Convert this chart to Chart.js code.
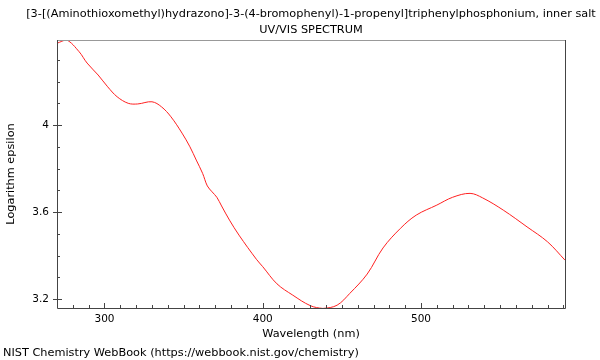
<!DOCTYPE html>
<html lang="en">
<head>
    <meta charset="UTF-8">
    <title>UV/VIS Spectrum</title>
    <script src="https://cdn.jsdelivr.net/npm/chart.js"></script>
    <style>
        html, body { margin: 0; padding: 0; background: #fff; }
        #wrap { width: 600px; height: 360px; position: relative; }
    </style>
</head>
<body>
    <div id="wrap"><canvas id="spectrumChart" width="600" height="360"></canvas></div>

    <script>
        // values
        const wavelengths = [270, 276, 284, 289, 296, 302, 308, 315, 321, 330, 336, 342, 349, 354, 358, 362, 365, 368, 371, 374, 379, 385, 396, 400, 409, 419, 430, 438, 447, 455, 466, 476, 487, 497, 510, 520, 531, 539, 552, 567, 580, 591];
        const logEpsilon = [4.376, 4.391, 4.337, 4.285, 4.230, 4.176, 4.130, 4.100, 4.097, 4.107, 4.084, 4.038, 3.963, 3.900, 3.839, 3.778, 3.720, 3.693, 3.668, 3.628, 3.563, 3.494, 3.383, 3.349, 3.270, 3.218, 3.170, 3.157, 3.172, 3.226, 3.315, 3.435, 3.525, 3.586, 3.632, 3.668, 3.686, 3.665, 3.609, 3.532, 3.463, 3.379];
        const xTicks = [300, 400, 500];
        const yTicks = [3.2, 3.6, 4.0];
        const titleLines = ['[3-[(Aminothioxomethyl)hydrazono]-3-(4-bromophenyl)-1-propenyl]triphenylphosphonium, inner salt', 'UV/VIS SPECTRUM'];
        const footerText = 'NIST Chemistry WebBook (https://webbook.nist.gov/chemistry)';

        const FONT = 'DejaVu Sans';

        // frame, minor ticks, title and footer
        const framePlugin = {
            id: 'frame',
            afterDraw(chart) {
                const { ctx, chartArea: a, scales } = chart;
                const x = scales.x, y = scales.y;
                ctx.save();
                ctx.lineWidth = 1;

                ctx.strokeStyle = '#999';
                ctx.beginPath();
                ctx.moveTo(a.left, a.top + 0.5);
                ctx.lineTo(a.right, a.top + 0.5);
                ctx.stroke();

                ctx.strokeStyle = '#444';
                ctx.beginPath();
                ctx.moveTo(a.left + 0.5, a.top);
                ctx.lineTo(a.left + 0.5, a.bottom + 0.5);
                ctx.lineTo(a.right + 0.5, a.bottom + 0.5);
                ctx.lineTo(a.right + 0.5, a.top);
                ctx.stroke();

                ctx.beginPath();
                for (let v = 280; v <= x.max; v += 10) {
                    const px = Math.round(x.getPixelForValue(v)) + 0.5;
                    const len = v % 100 === 0 ? 5 : 3;
                    ctx.moveTo(px, a.bottom);
                    ctx.lineTo(px, a.bottom - len);
                }
                for (let i = 32; i <= 43; i++) {
                    const v = i / 10;
                    const py = Math.round(y.getPixelForValue(v)) + 0.5;
                    if (i % 4 === 0) {
                        ctx.moveTo(a.left - 4, py);
                        ctx.lineTo(a.left + 5, py);
                    } else {
                        ctx.moveTo(a.left, py);
                        ctx.lineTo(a.left + 3, py);
                    }
                }
                ctx.stroke();

                ctx.fillStyle = '#000';
                ctx.font = '11.3px "' + FONT + '"';
                ctx.textAlign = 'center';
                ctx.textBaseline = 'middle';
                const cx = (a.left + a.right) / 2;
                ctx.fillText(titleLines[0], cx, 14);
                ctx.fillText(titleLines[1], cx, 30);
                ctx.textAlign = 'left';
                ctx.fillText(footerText, 3, 353);
                ctx.restore();
            }
        };

        const ctx = document.getElementById('spectrumChart').getContext('2d');
        new Chart(ctx, {
            type: 'line',
            data: {
                datasets: [{
                    data: wavelengths.map((w, i) => ({ x: w, y: logEpsilon[i] })),
                    borderColor: '#ff2020',
                    borderWidth: 1,
                    pointRadius: 0,
                    fill: false,
                    tension: 0.35
                }]
            },
            options: {
                responsive: false,
                animation: false,
                layout: { padding: { top: 40, right: 35, left: 0, bottom: 0 } },
                plugins: { legend: { display: false }, tooltip: { enabled: false } },
                scales: {
                    x: {
                        type: 'linear',
                        min: 270,
                        max: 591,
                        afterBuildTicks: s => { s.ticks = xTicks.map(v => ({ value: v })); },
                        afterFit: s => { s.height = 52; },
                        grid: { display: false, tickLength: 0 },
                        border: { display: false },
                        ticks: { color: '#000', font: { family: FONT, size: 10.5 }, padding: 5, maxRotation: 0 },
                        title: { display: true, text: 'Wavelength (nm)', color: '#000', font: { family: FONT, size: 11.3 }, padding: { top: 0, bottom: 19 } }
                    },
                    y: {
                        min: 3.159,
                        max: 4.391,
                        afterBuildTicks: s => { s.ticks = yTicks.map(v => ({ value: v })); },
                        afterFit: s => { s.width = 57; },
                        grid: { display: false, tickLength: 0 },
                        border: { display: false },
                        ticks: { color: '#000', font: { family: FONT, size: 10.5 }, padding: 8, callback: v => String(v) },
                        title: { display: true, text: 'Logarithm epsilon', color: '#000', font: { family: FONT, size: 11.3 }, padding: { top: 4, bottom: 0 } }
                    }
                }
            },
            plugins: [framePlugin]
        });
    </script>
</body>
</html>
